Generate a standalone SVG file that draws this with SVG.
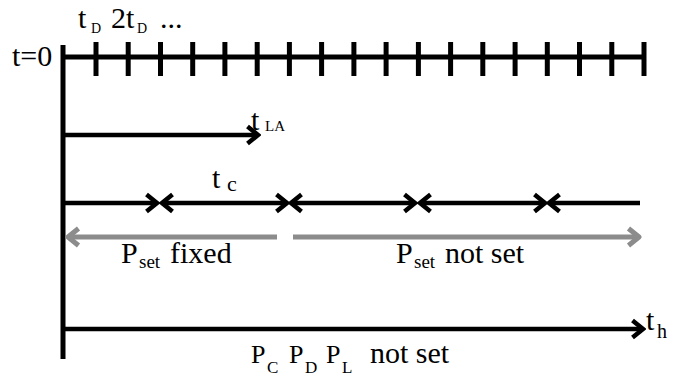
<svg xmlns="http://www.w3.org/2000/svg" width="681" height="377" viewBox="0 0 681 377">
<style>
  text { font-family: "Liberation Serif", "Times New Roman", "DejaVu Serif", serif; fill: #000; }
  .main { font-size: 30px; }
  .ax { stroke: #000; stroke-width: 5; fill: none; }
  .blk { stroke: #000; stroke-width: 4.5; fill: none; }
  .gry { stroke: #8c8c8c; stroke-width: 5; fill: none; }
  .tick { stroke: #000; stroke-width: 5; }
</style>
<defs>
  <marker id="hb" markerUnits="userSpaceOnUse" viewBox="0 0 16 22" refX="13" refY="11" markerWidth="16" markerHeight="22" orient="auto-start-reverse">
    <path d="M2.5,2.5 L13,11 L2.5,19.5" fill="none" stroke="#000" stroke-width="4.5" stroke-linejoin="miter"/>
  </marker>
  <marker id="hg" markerUnits="userSpaceOnUse" viewBox="0 0 16 22" refX="13" refY="11" markerWidth="16" markerHeight="22" orient="auto-start-reverse">
    <path d="M2.5,2.5 L13,11 L2.5,19.5" fill="none" stroke="#8c8c8c" stroke-width="5" stroke-linejoin="round"/>
  </marker>
</defs>
<rect width="681" height="377" fill="#fff"/>

<g id="axis-top">
  <line class="ax" x1="63" y1="57" x2="644" y2="57" stroke-width="6"/>
  <g class="tick">
    <line x1="96" y1="42" x2="96" y2="76"/>
    <line x1="128.2" y1="42" x2="128.2" y2="76"/>
    <line x1="160.5" y1="42" x2="160.5" y2="76"/>
    <line x1="192.7" y1="42" x2="192.7" y2="76"/>
    <line x1="224.9" y1="42" x2="224.9" y2="76"/>
    <line x1="257.2" y1="42" x2="257.2" y2="76"/>
    <line x1="289.4" y1="42" x2="289.4" y2="76"/>
    <line x1="321.6" y1="42" x2="321.6" y2="76"/>
    <line x1="353.9" y1="42" x2="353.9" y2="76"/>
    <line x1="386.1" y1="42" x2="386.1" y2="76"/>
    <line x1="418.4" y1="42" x2="418.4" y2="76"/>
    <line x1="450.6" y1="42" x2="450.6" y2="76"/>
    <line x1="482.8" y1="42" x2="482.8" y2="76"/>
    <line x1="515.1" y1="42" x2="515.1" y2="76"/>
    <line x1="547.3" y1="42" x2="547.3" y2="76"/>
    <line x1="579.5" y1="42" x2="579.5" y2="76"/>
    <line x1="611.8" y1="42" x2="611.8" y2="76"/>
    <line x1="644" y1="42" x2="644" y2="76"/>
  </g>
  <text class="main" x="12" y="66">t=0</text>
  <text class="main" x="78" y="28">t</text>
  <text x="91" y="33" font-size="14">D</text>
  <text class="main" x="111" y="28">2t</text>
  <text x="137" y="33" font-size="14">D</text>
  <text class="main" x="160" y="28">...</text>
</g>

<g id="axis-vertical">
  <line class="ax" x1="63" y1="45" x2="63" y2="359"/>
</g>

<g id="connectors">
  <line class="blk" x1="63" y1="135" x2="258" y2="135" marker-end="url(#hb)"/>
  <line class="blk" x1="63" y1="203" x2="157" y2="203" marker-end="url(#hb)"/>
  <line class="blk" x1="162" y1="203" x2="287" y2="203" marker-start="url(#hb)" marker-end="url(#hb)"/>
  <line class="blk" x1="291" y1="203" x2="415" y2="203" marker-start="url(#hb)" marker-end="url(#hb)"/>
  <line class="blk" x1="420" y1="203" x2="545" y2="203" marker-start="url(#hb)" marker-end="url(#hb)"/>
  <line class="blk" x1="549" y1="203" x2="640" y2="203" marker-start="url(#hb)"/>
  <line class="gry" x1="68" y1="237" x2="277" y2="237" marker-start="url(#hg)"/>
  <line class="gry" x1="293" y1="237" x2="639" y2="237" marker-end="url(#hg)"/>
  <line class="blk" x1="63" y1="329" x2="643" y2="329" stroke-width="5" marker-end="url(#hb)"/>
</g>

<g id="label-tLA">
  <text class="main" x="251" y="130">t</text>
  <text x="265" y="131" font-size="15">LA</text>
</g>

<g id="label-tc">
  <text class="main" x="212" y="188">t</text>
  <text x="227" y="191" font-size="22">c</text>
</g>

<g id="label-pset-fixed">
  <text class="main" x="121" y="263">P</text>
  <text x="139" y="268" font-size="19">set</text>
  <text class="main" x="170" y="263">fixed</text>
</g>

<g id="label-pset-notset">
  <text class="main" x="396" y="263">P</text>
  <text x="414" y="268" font-size="19">set</text>
  <text class="main" x="445" y="263">not set</text>
</g>

<g id="label-th">
  <text class="main" x="646" y="330">t</text>
  <text x="657" y="338" font-size="20">h</text>
</g>

<g id="label-bottom">
  <text x="251" y="363" font-size="26">P</text>
  <text x="267" y="373" font-size="17">C</text>
  <text x="289" y="363" font-size="26">P</text>
  <text x="305" y="373" font-size="17">D</text>
  <text x="326" y="363" font-size="26">P</text>
  <text x="342" y="373" font-size="17">L</text>
  <text class="main" x="370" y="363">not set</text>
</g>
</svg>
